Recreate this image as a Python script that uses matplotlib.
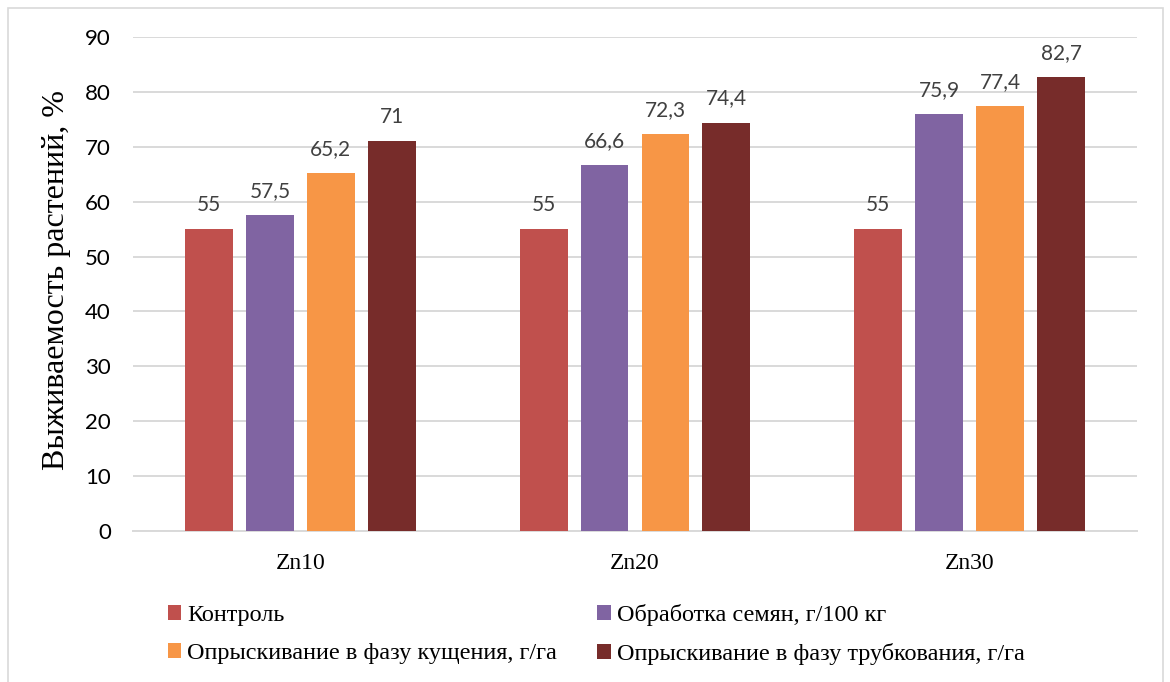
import matplotlib

matplotlib.use("Agg")
import matplotlib.pyplot as plt
import numpy as np
from matplotlib.patches import Rectangle

groups = ["Zn10", "Zn20", "Zn30"]
series = [
    "Контроль",
    "Обработка семян, г/100 кг",
    "Опрыскивание в фазу кущения, г/га",
    "Опрыскивание в фазу трубкования, г/га",
]
control = [55, 55, 55]
seeds = [57.5, 66.6, 75.9]
tillering = [65.2, 72.3, 77.4]
booting = [71, 74.4, 82.7]
colors = ["#C0504D", "#8064A2", "#F79646", "#772C2A"]
yticks = [0, 10, 20, 30, 40, 50, 60, 70, 80, 90]

sans = ["Lato", "DejaVu Sans"]
serif = ["Liberation Serif", "DejaVu Serif"]

fig = plt.figure(figsize=(11.7, 6.82), dpi=100)
ax = fig.add_axes([133 / 1170, 1 - 531 / 682, 1004 / 1170, 494 / 682])

x = np.arange(len(groups))
width = 0.143
step = 0.182
handles = []
for i, (vals, col) in enumerate(zip([control, seeds, tillering, booting], colors)):
    pos = x + (i - 1.5) * step
    b = ax.bar(pos, vals, width=width, color=col, zorder=3)
    handles.append(b)
    for px, v in zip(pos, vals):
        lbl = f"{v:g}".replace(".", ",")
        ax.text(px, v + 2.6, lbl, ha="center", va="bottom", fontsize=15,
                color="#404040", family=sans)

ax.set_xlim(-0.5, 2.5)
ax.set_ylim(0, 90)
ax.set_yticks(yticks)
ax.set_yticklabels([str(t) for t in yticks], family=sans, fontsize=16)
ax.set_xticks(x)
ax.set_xticklabels(groups, family=serif, fontsize=17)
ax.tick_params(axis="both", length=0)
ax.tick_params(axis="y", pad=16)
ax.tick_params(axis="x", pad=16)
ax.grid(axis="y", color="#D9D9D9", linewidth=1.4, zorder=0)
for s in ["top", "right", "left"]:
    ax.spines[s].set_visible(False)
ax.spines["bottom"].set_color("#D9D9D9")
ax.spines["bottom"].set_linewidth(1.4)

fig.text(57 / 1170, 1 - 280 / 682, "Выживаемость растений, %", rotation=90,
         ha="center", va="center", fontsize=23, family=serif)

order = [0, 2, 1, 3]
fig.legend([handles[k] for k in order], [series[k] for k in order], ncol=2,
           loc="upper left", bbox_to_anchor=(146 / 1170, 1 - 582 / 682),
           frameon=False, prop={"family": serif, "size": 17.5},
           handlelength=0.55, handleheight=0.55, handletextpad=0.25,
           columnspacing=1.65, labelspacing=0.72)

fig.patches.append(Rectangle((8 / 1170, -0.01), 1155 / 1170, 1 - 8 / 682 + 0.01,
                             transform=fig.transFigure, fill=False,
                             edgecolor="#D9D9D9", linewidth=1.2))

fig.savefig("out.png", dpi=100)
